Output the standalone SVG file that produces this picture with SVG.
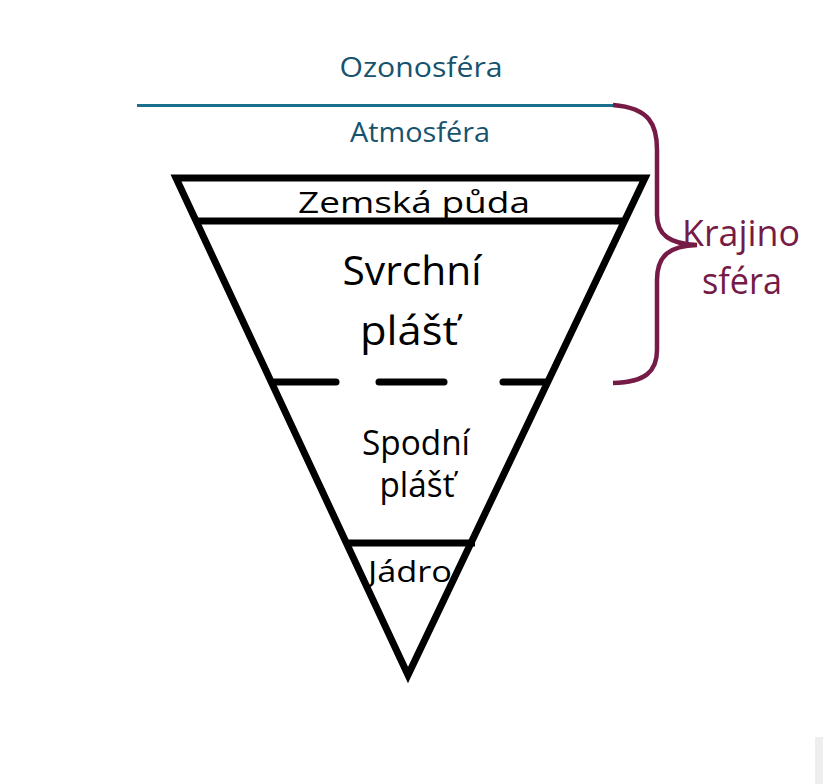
<svg xmlns="http://www.w3.org/2000/svg" width="828" height="784" viewBox="0 0 828 784">
<style>
.t{font-family:"Open Sans","Noto Sans","Liberation Sans",sans-serif;text-anchor:middle}
.teal{fill:#17536d}
.blk{fill:#000}
.mar{fill:#761a46}
.ln{stroke:#000;stroke-width:7;fill:none}
.dash{stroke:#000;stroke-width:7;stroke-linecap:round}
</style>
<rect width="828" height="784" fill="#fff"/>
<g id="ozonosfera">
<text class="t teal" x="421" y="77" font-size="28" textLength="163" lengthAdjust="spacingAndGlyphs">Ozonosféra</text>
<line x1="137" y1="105.5" x2="614" y2="105.5" stroke="#1a6f8f" stroke-width="3"/>
</g>
<g id="atmosfera">
<text class="t teal" x="420" y="142" font-size="27" textLength="140" lengthAdjust="spacingAndGlyphs">Atmosféra</text>
</g>
<g id="pyramid">
<polygon class="ln" points="176,178 645,178 408,675" stroke-linejoin="miter"/>
</g>
<g id="zemska-puda">
<line class="ln" x1="196" y1="221" x2="626" y2="221"/>
<text class="t blk" x="414" y="213" font-size="30" textLength="232" lengthAdjust="spacingAndGlyphs">Zemská půda</text>
</g>
<g id="svrchni-plast">
<line class="dash" x1="274" y1="382" x2="336" y2="382"/>
<line class="dash" x1="379" y1="382" x2="444" y2="382"/>
<line class="dash" x1="503" y1="382" x2="546" y2="382"/>
<text class="t blk" x="412" y="285" font-size="41" textLength="139" lengthAdjust="spacingAndGlyphs">Svrchní</text>
<text class="t blk" x="409" y="345" font-size="41" textLength="98" lengthAdjust="spacingAndGlyphs">plášť</text>
</g>
<g id="spodni-plast">
<line x1="347" y1="543" x2="475" y2="543" stroke="#000" stroke-width="7"/>
<text class="t blk" x="416" y="455" font-size="34" textLength="108" lengthAdjust="spacingAndGlyphs">Spodní</text>
<text class="t blk" x="417" y="497" font-size="34" textLength="75" lengthAdjust="spacingAndGlyphs">plášť</text>
</g>
<g id="jadro">
<text class="t blk" x="410" y="582" font-size="30" textLength="84" lengthAdjust="spacingAndGlyphs">Jádro</text>
</g>
<g id="krajinosfera">
<path d="M613,105 C650,108 657,125 657,150 L657,215 C657,235 670,244 697,245 C670,246 657,255 657,280 L657,350 C657,372 645,382 613,383" fill="none" stroke="#761a46" stroke-width="4.5"/>
<text class="t mar" x="741" y="246" font-size="36" textLength="118" lengthAdjust="spacingAndGlyphs">Krajino</text>
<text class="t mar" x="742" y="294" font-size="36" textLength="80" lengthAdjust="spacingAndGlyphs">sféra</text>
</g>
<rect x="815" y="737" width="8" height="47" fill="#eeeeee"/>
</svg>
